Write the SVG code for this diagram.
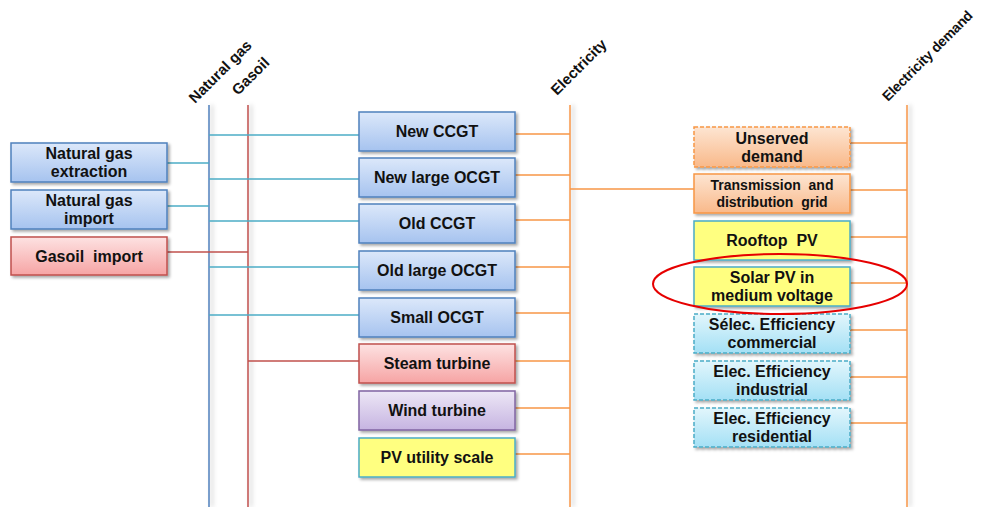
<svg xmlns="http://www.w3.org/2000/svg" width="988" height="507" viewBox="0 0 988 507">
<defs>
<linearGradient id="gBlue" x1="0" y1="0" x2="0" y2="1"><stop offset="0" stop-color="#dce8fa"/><stop offset="1" stop-color="#a6c3ef"/></linearGradient>
<linearGradient id="gRed" x1="0" y1="0" x2="0" y2="1"><stop offset="0" stop-color="#fde2e2"/><stop offset="1" stop-color="#f6a4a4"/></linearGradient>
<linearGradient id="gPurple" x1="0" y1="0" x2="0" y2="1"><stop offset="0" stop-color="#ede7f6"/><stop offset="1" stop-color="#c6b4e1"/></linearGradient>
<linearGradient id="gOrange" x1="0" y1="0" x2="0" y2="1"><stop offset="0" stop-color="#fde5d2"/><stop offset="1" stop-color="#f9b98a"/></linearGradient>
<linearGradient id="gCyan" x1="0" y1="0" x2="0" y2="1"><stop offset="0" stop-color="#e2f6fc"/><stop offset="1" stop-color="#a4e0f5"/></linearGradient>
<filter id="sh" x="-10%" y="-10%" width="130%" height="140%"><feDropShadow dx="2" dy="2" stdDeviation="1.5" flood-color="#000" flood-opacity="0.35"/></filter>
<filter id="lsh" filterUnits="userSpaceOnUse" x="0" y="0" width="988" height="507"><feDropShadow dx="3" dy="0" stdDeviation="2" flood-color="#000" flood-opacity="0.25"/></filter>
</defs>
<style>
.box{stroke-width:1.5;filter:url(#sh)}
.blue{fill:url(#gBlue);stroke:#4f81bd}
.red{fill:url(#gRed);stroke:#c0504d}
.purple{fill:url(#gPurple);stroke:#8064a2}
.yellow{fill:#ffff80;stroke:#4bacc6}
.orange{fill:url(#gOrange);stroke:#f79646}
.cyan{fill:url(#gCyan);stroke:#4bacc6}
.dash{stroke-dasharray:4,2}
text{font-family:"Liberation Sans",Arial,sans-serif;font-weight:bold;fill:#111}
.t{font-size:16px;text-anchor:middle}
.lab{font-size:15px}
.teal{stroke:#4bacc6;stroke-width:1.5;fill:none}
.ng{stroke:#4f81bd;stroke-width:1.5;fill:none}
.gs{stroke:#c0504d;stroke-width:1.5;fill:none}
.el{stroke:#f79646;stroke-width:1.5;fill:none}
</style>
<rect width="988" height="507" fill="#fff"/>

<g id="connectors">
<line class="ng" x1="209" y1="105" x2="209" y2="507" filter="url(#lsh)"/>
<line class="gs" x1="248" y1="105" x2="248" y2="507" filter="url(#lsh)"/>
<line class="el" x1="570" y1="105" x2="570" y2="507" filter="url(#lsh)"/>
<line class="el" x1="907" y1="105" x2="907" y2="507" filter="url(#lsh)"/>
<line class="teal" x1="167" y1="163" x2="209" y2="163"/>
<line class="teal" x1="167" y1="206" x2="209" y2="206"/>
<line class="gs" x1="167" y1="252" x2="248" y2="252"/>
<line class="teal" x1="209" y1="135" x2="359" y2="135"/>
<line class="teal" x1="209" y1="179" x2="359" y2="179"/>
<line class="teal" x1="209" y1="221" x2="359" y2="221"/>
<line class="teal" x1="209" y1="267" x2="359" y2="267"/>
<line class="teal" x1="209" y1="315" x2="359" y2="315"/>
<line class="gs" x1="248" y1="361" x2="359" y2="361"/>
<line class="el" x1="515" y1="134" x2="570" y2="134"/>
<line class="el" x1="515" y1="175" x2="570" y2="175"/>
<line class="el" x1="515" y1="220" x2="570" y2="220"/>
<line class="el" x1="515" y1="267" x2="570" y2="267"/>
<line class="el" x1="515" y1="313" x2="570" y2="313"/>
<line class="el" x1="515" y1="361" x2="570" y2="361"/>
<line class="el" x1="515" y1="408" x2="570" y2="408"/>
<line class="el" x1="515" y1="454" x2="570" y2="454"/>
<line class="el" x1="570" y1="189" x2="694" y2="189"/>
<line class="el" x1="850" y1="143" x2="907" y2="143"/>
<line class="el" x1="850" y1="190" x2="907" y2="190"/>
<line class="el" x1="850" y1="237" x2="907" y2="237"/>
<line class="el" x1="850" y1="283" x2="907" y2="283"/>
<line class="el" x1="850" y1="330" x2="907" y2="330"/>
<line class="el" x1="850" y1="377" x2="907" y2="377"/>
<line class="el" x1="850" y1="423" x2="907" y2="423"/>
</g>

<g id="bus-labels">
<text class="lab" transform="translate(195,104) rotate(-45)">Natural gas</text>
<text class="lab" transform="translate(238,96) rotate(-45)">Gasoil</text>
<text class="lab" transform="translate(557,96) rotate(-45)">Electricity</text>
<text class="lab" transform="translate(888,102) rotate(-45)" style="font-size:14px;letter-spacing:-0.2px">Electricity demand</text>
</g>

<g id="ng-extraction"><rect class="box blue" x="11" y="143" width="156" height="39"/><text class="t" x="89" y="159">Natural gas</text><text class="t" x="89" y="177">extraction</text></g>
<g id="ng-import"><rect class="box blue" x="11" y="190" width="156" height="39"/><text class="t" x="89" y="206">Natural gas</text><text class="t" x="89" y="224">import</text></g>
<g id="gasoil-import"><rect class="box red" x="11" y="237" width="156" height="38"/><text class="t" x="89" y="262" xml:space="preserve">Gasoil  import</text></g>

<g id="new-ccgt"><rect class="box blue" x="359" y="112" width="156" height="39"/><text class="t" x="437" y="137">New CCGT</text></g>
<g id="new-large-ocgt"><rect class="box blue" x="359" y="158" width="156" height="39"/><text class="t" x="437" y="183">New large OCGT</text></g>
<g id="old-ccgt"><rect class="box blue" x="359" y="204" width="156" height="39"/><text class="t" x="437" y="229">Old CCGT</text></g>
<g id="old-large-ocgt"><rect class="box blue" x="359" y="251" width="156" height="39"/><text class="t" x="437" y="276">Old large OCGT</text></g>
<g id="small-ocgt"><rect class="box blue" x="359" y="298" width="156" height="39"/><text class="t" x="437" y="323">Small OCGT</text></g>
<g id="steam-turbine"><rect class="box red" x="359" y="344" width="156" height="39"/><text class="t" x="437" y="369">Steam turbine</text></g>
<g id="wind-turbine"><rect class="box purple" x="359" y="391" width="156" height="39"/><text class="t" x="437" y="416">Wind turbine</text></g>
<g id="pv-utility"><rect class="box yellow" x="359" y="438" width="156" height="39"/><text class="t" x="437" y="463">PV utility scale</text></g>

<g id="unserved-demand"><rect class="box orange dash" x="694" y="127" width="156" height="40"/><text class="t" x="772" y="144">Unserved</text><text class="t" x="772" y="162">demand</text></g>
<g id="transmission"><rect class="box orange" x="694" y="174" width="156" height="39"/><text class="t" x="772" y="190" style="font-size:14px" xml:space="preserve">Transmission  and</text><text class="t" x="772" y="207" style="font-size:14px" xml:space="preserve">distribution  grid</text></g>
<g id="rooftop-pv"><rect class="box yellow" x="694" y="221" width="156" height="39"/><text class="t" x="772" y="246" xml:space="preserve">Rooftop  PV</text></g>
<g id="solar-pv-mv"><rect class="box yellow" x="694" y="267" width="156" height="39"/><text class="t" x="772" y="283">Solar PV in</text><text class="t" x="772" y="301">medium voltage</text></g>
<g id="eff-commercial"><rect class="box cyan dash" x="694" y="314" width="156" height="39"/><text class="t" x="772" y="330">Sélec. Efficiency</text><text class="t" x="772" y="348">commercial</text></g>
<g id="eff-industrial"><rect class="box cyan dash" x="694" y="361" width="156" height="39"/><text class="t" x="772" y="377">Elec. Efficiency</text><text class="t" x="772" y="395">industrial</text></g>
<g id="eff-residential"><rect class="box cyan dash" x="694" y="408" width="156" height="39"/><text class="t" x="772" y="424">Elec. Efficiency</text><text class="t" x="772" y="442">residential</text></g>

<ellipse id="highlight" cx="780" cy="284" rx="127" ry="30" fill="none" stroke="#e60000" stroke-width="2"/>
</svg>
